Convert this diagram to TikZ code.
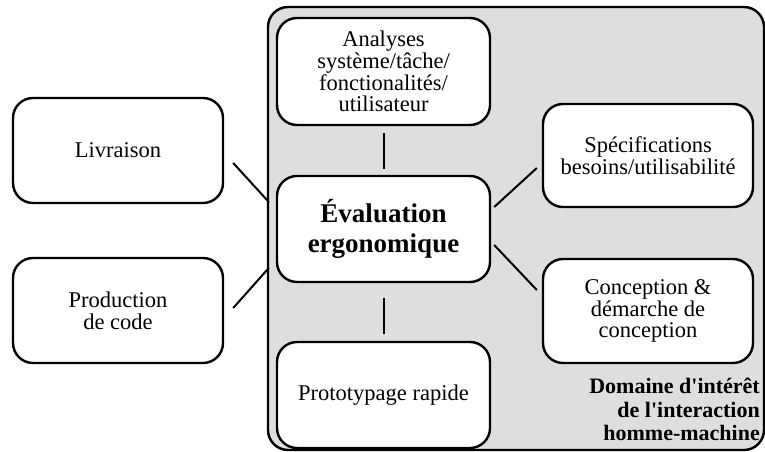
\documentclass[tikz,border=0pt]{standalone}
\usepackage{fontspec}
\setmainfont{Liberation Serif}[Ligatures=TeXOff]
\usetikzlibrary{calc}
\definecolor{domainfill}{HTML}{DEDEDE}
\begin{document}
\begin{tikzpicture}[x=1pt,y=-1pt,
  box/.style={draw,line width=2.4pt,rounded corners=20pt,fill=white,
    align=center,font=\fontsize{22.5}{21.7}\selectfont,inner sep=2pt},
  wbox/.style={box,minimum width=213pt,minimum height=106pt},
  nbox/.style={box,minimum width=210pt,minimum height=104pt},
  link/.style={line width=2pt}]
\useasboundingbox (0,0) rectangle (765,452);
% interaction domain area
\draw[line width=2.4pt,rounded corners=20pt,fill=domainfill] (268,7) rectangle (764,450);
\node[anchor=north east,align=right,font=\bfseries\fontsize{22}{23.5}\selectfont,inner sep=0pt]
  (dom) at (760,378) {Domaine d'intérêt\\de l'interaction\\homme-machine};
% boxes
\node[wbox,minimum height=107pt] (ana) at (383.5,71.5) {Analyses\\système/tâche/\\fonctionalités/\\utilisateur};
\node[wbox,font=\bfseries\fontsize{27}{30}\selectfont] (eval) at (383.5,229) {Évaluation\\ergonomique};
\node[wbox] (proto) at (383.5,395) {Prototypage rapide};
\node[nbox,minimum height=103pt] (spec) at (648,155.5) {Spécifications\\besoins/utilisabilité};
\node[nbox] (conc) at (648,311) {Conception \&\\démarche de\\conception};
\node[nbox,minimum height=105pt] (liv) at (118,150.5) {Livraison};
\node[nbox,minimum height=105pt] (prod) at (118,310.5) {Production\\de code};
% connectors
\draw[link] ($(ana.south)+(0,7)$) -- ($(eval.north)+(0,-6)$);
\draw[link] ($(eval.south)+(0,15)$) -- ($(proto.north)+(0,-7)$);
\draw[link] ($(spec.west)+(-5,12.5)$) -- ($(eval.east)+(3,-22)$);
\draw[link] ($(eval.east)+(3,16)$) -- ($(conc.west)+(-5,-21)$);
\draw[link] ($(liv.east)+(9,12.5)$) -- ($(eval.west)+(-7,-27)$);
\draw[link] ($(prod.east)+(9,-2.5)$) -- ($(eval.west)+(-7,39)$);
\end{tikzpicture}
\end{document}
